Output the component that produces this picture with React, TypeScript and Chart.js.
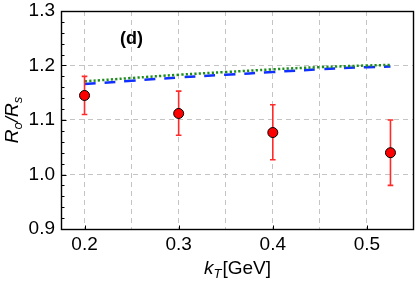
import React, { useEffect, useRef } from "react";
import { Chart, registerables } from "chart.js";

Chart.register(...registerables);

// ---- data ----
const kT = [0.2, 0.3, 0.4, 0.525];
const ratio = [1.145, 1.112, 1.077, 1.04];
const errLow = [1.11, 1.072, 1.027, 0.98];
const errHigh = [1.18, 1.153, 1.128, 1.1];

const curveX = [0.2, 0.25, 0.3, 0.35, 0.4, 0.45, 0.5, 0.525];
const greenY = [1.171, 1.177, 1.183, 1.188, 1.193, 1.197, 1.2, 1.201];
const blueY = [1.166, 1.172, 1.178, 1.183, 1.188, 1.193, 1.197, 1.198];

const xGridValues = [0.2, 0.25, 0.3, 0.35, 0.4, 0.45, 0.5];
const xLabelValues = [0.2, 0.3, 0.4, 0.5];
const yTickValues = [0.9, 1.0, 1.1, 1.2, 1.3];
const yMinorStep = 0.02;
const panelLabel = "(d)";
const panelPos = { x: 0.25, y: 1.249 };

const FONT = "'Liberation Sans', Arial, sans-serif";

const overlay = {
  id: "overlay",
  beforeDatasetDraw(chart: any, args: any) {
    if (args.index !== 0) return;
    const { ctx, scales } = chart;
    const xs = scales.x, ys = scales.y;
    ctx.save();
    ctx.strokeStyle = "#ff2a2a";
    ctx.lineWidth = 1.6;
    kT.forEach((k, i) => {
      const px = xs.getPixelForValue(k);
      const y1 = ys.getPixelForValue(errLow[i]);
      const y2 = ys.getPixelForValue(errHigh[i]);
      ctx.beginPath();
      ctx.moveTo(px, y1);
      ctx.lineTo(px, y2);
      ctx.moveTo(px - 2.8, y1);
      ctx.lineTo(px + 2.8, y1);
      ctx.moveTo(px - 2.8, y2);
      ctx.lineTo(px + 2.8, y2);
      ctx.stroke();
    });
    ctx.restore();
  },
  afterDraw(chart: any) {
    const { ctx, chartArea, scales } = chart;
    const { left, right, top, bottom } = chartArea;
    const xs = scales.x, ys = scales.y;
    ctx.save();
    // frame
    ctx.strokeStyle = "#000";
    ctx.lineWidth = 1.4;
    ctx.strokeRect(Math.round(left) + 0.5, Math.round(top) + 0.5, Math.round(right) - Math.round(left) - 1, Math.round(bottom) - Math.round(top));
    // inward ticks
    ctx.lineWidth = 1;
    ctx.beginPath();
    const lx = Math.round(left) + 0.5;
    for (let v = 0.9; v <= 1.3001; v += yMinorStep) {
      const py = Math.round(ys.getPixelForValue(v)) + 0.5;
      const major = Math.abs(v * 10 - Math.round(v * 10)) < 1e-6;
      ctx.moveTo(lx, py);
      ctx.lineTo(lx + (major ? 5 : 3), py);
    }
    const by = Math.round(bottom) + 0.5;
    xLabelValues.forEach((v) => {
      const px = Math.round(xs.getPixelForValue(v)) + 0.5;
      ctx.moveTo(px, by);
      ctx.lineTo(px, by - 4);
    });
    ctx.stroke();

    // panel label
    ctx.fillStyle = "#000";
    ctx.font = `bold 18px ${FONT}`;
    ctx.textAlign = "center";
    ctx.textBaseline = "middle";
    ctx.fillText(panelLabel, xs.getPixelForValue(panelPos.x), ys.getPixelForValue(panelPos.y));

    // x title: k_T[GeV]
    ctx.textBaseline = "alphabetic";
    ctx.textAlign = "left";
    const big = `19px ${FONT}`;
    const bigI = `italic 19px ${FONT}`;
    const smallI = `italic 13px ${FONT}`;
    const partsX = [
      { t: "k", f: bigI, dy: 0 },
      { t: "T", f: smallI, dy: 4 },
      { t: "[GeV]", f: big, dy: 0 },
    ];
    let w = 0;
    partsX.forEach((p) => { ctx.font = p.f; w += ctx.measureText(p.t).width + (p.t === "T" ? 1 : 0); });
    let cx = (left + right) / 2 - w / 2;
    const baseY = 274;
    partsX.forEach((p) => {
      ctx.font = p.f;
      ctx.fillText(p.t, cx, baseY + p.dy);
      cx += ctx.measureText(p.t).width + (p.t === "T" ? 1 : 0);
    });

    // y title: R_o/R_s
    const partsY = [
      { t: "R", f: bigI, dy: 0 },
      { t: "o", f: smallI, dy: 4 },
      { t: "/", f: bigI, dy: 0 },
      { t: "R", f: bigI, dy: 0 },
      { t: "s", f: smallI, dy: 4 },
    ];
    let wy = 0;
    partsY.forEach((p) => { ctx.font = p.f; wy += ctx.measureText(p.t).width; });
    ctx.translate(18, (top + bottom) / 2);
    ctx.rotate(-Math.PI / 2);
    let cy = -wy / 2;
    partsY.forEach((p) => {
      ctx.font = p.f;
      ctx.fillText(p.t, cy, p.dy);
      cy += ctx.measureText(p.t).width;
    });
    ctx.restore();
  },
};

export default function App() {
  const ref = useRef<HTMLCanvasElement | null>(null);
  useEffect(() => {
    if (!ref.current) return;
    const chart = new Chart(ref.current, {
      type: "scatter",
      data: {
        datasets: [
          {
            label: "data",
            data: kT.map((x, i) => ({ x, y: ratio[i] })),
            showLine: false,
            pointRadius: 5,
            pointBackgroundColor: "#ff0000",
            pointBorderColor: "#000",
            pointBorderWidth: 1,
            clip: false,
          },
          {
            label: "green",
            data: curveX.map((x, i) => ({ x, y: greenY[i] })),
            showLine: true,
            pointRadius: 0,
            borderColor: "#1e8c1e",
            borderWidth: 2.5,
            borderDash: [2.2, 2.2],
            tension: 0.4,
            fill: false,
          },
          {
            label: "blue",
            data: curveX.map((x, i) => ({ x, y: blueY[i] })),
            showLine: true,
            pointRadius: 0,
            borderColor: "#1030ff",
            borderWidth: 2.5,
            borderDash: [11, 9],
            tension: 0.4,
            fill: false,
          },
        ],
      },
      options: {
        responsive: false,
        animation: false,
        devicePixelRatio: 1,
        layout: { autoPadding: false, padding: { top: 11, right: 1, left: 0, bottom: 0 } },
        plugins: { legend: { display: false }, tooltip: { enabled: false } },
        scales: {
          x: {
            type: "linear",
            min: 0.175,
            max: 0.55,
            afterBuildTicks: (s: any) => {
              s.ticks = xGridValues.map((v) => ({ value: v }));
            },
            afterFit: (s: any) => {
              s.height = 52;
              s.paddingLeft = 0;
              s.paddingRight = 0;
            },
            ticks: {
              autoSkip: false,
              maxRotation: 0,
              padding: 4,
              color: "#000",
              font: { family: FONT, size: 19 },
              callback: (v: any) => {
                const n = Number(v);
                return xLabelValues.some((l) => Math.abs(l - n) < 1e-6) ? n.toFixed(1) : "";
              },
            },
            grid: { color: "#c4c4c4", lineWidth: 1, drawTicks: false },
            border: { display: false, dash: [5, 4] },
          },
          y: {
            type: "linear",
            min: 0.9,
            max: 1.3,
            afterBuildTicks: (s: any) => {
              s.ticks = yTickValues.map((v) => ({ value: v }));
            },
            afterFit: (s: any) => {
              s.width = 61;
              s.paddingTop = 0;
              s.paddingBottom = 0;
            },
            ticks: {
              padding: 6,
              color: "#000",
              font: { family: FONT, size: 19 },
              callback: (v: any) => Number(v).toFixed(1),
            },
            grid: { color: "#c4c4c4", lineWidth: 1, drawTicks: false },
            border: { display: false, dash: [5, 4] },
          },
        },
      },
      plugins: [overlay],
    } as any);
    return () => chart.destroy();
  }, []);
  return (
    <div style={{ position: "absolute", left: 0, top: 0, width: 415, height: 281, background: "#fff" }}>
      <canvas ref={ref} width={415} height={281} style={{ display: "block" }} />
    </div>
  );
}
